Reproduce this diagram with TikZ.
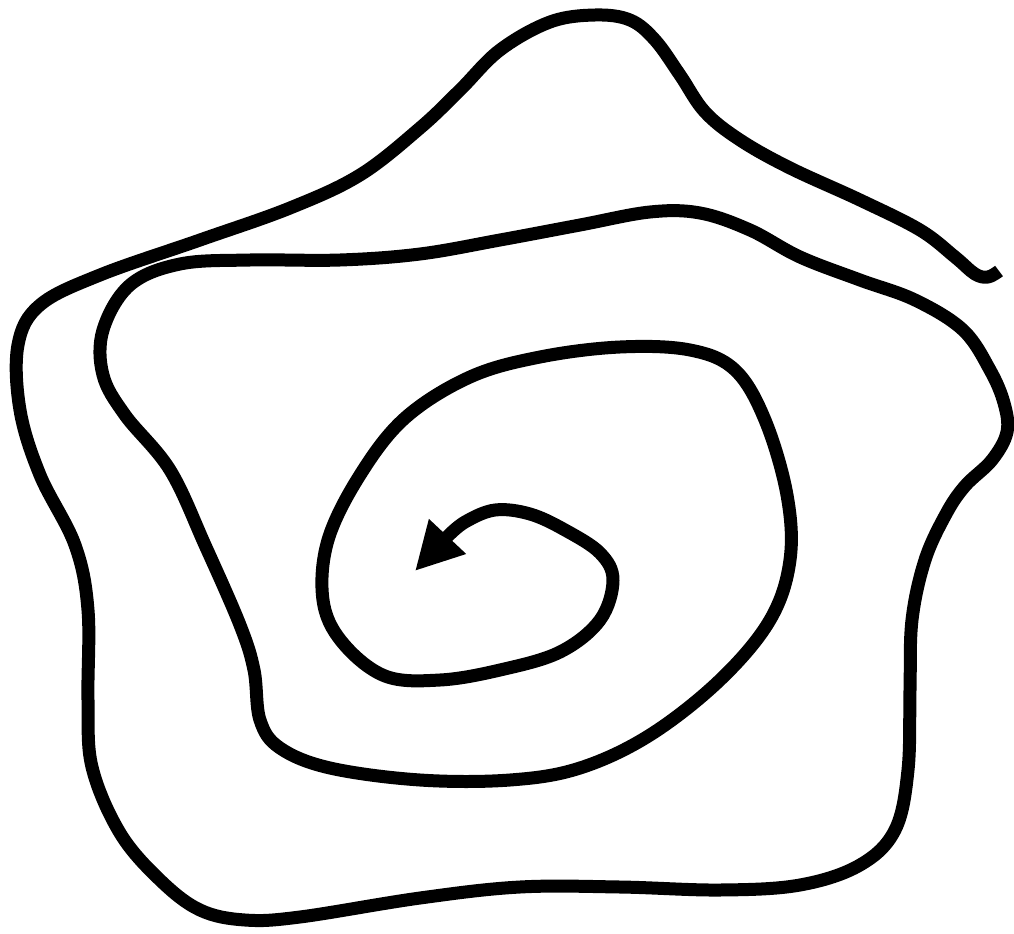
\documentclass[tikz,border=0pt]{standalone}
\usepackage{tikz}
\usetikzlibrary{arrows.meta}

\begin{document}
\begin{tikzpicture}[x=0.02cm, y=-0.02cm,
    spiralline/.style={line width=0.26cm, line join=round, black}]
          \useasboundingbox (0,0) rectangle (1014,933);
          % spiral, drawn from the loose outer end inwards
          \draw[spiralline, -{Triangle[length=0.95cm, width=0.95cm]}] plot[smooth, tension=0.6] coordinates {
            (999,271) (988,277) (975,274) (955,257) (920,230) (860,200) (790,168) (740,140)
            (705,112) (680,75) (655,40) (630,20) (595,15) (550,22) (500,50) (460,90)
            (420,128) (360,175) (290,208) (200,240) (100,275) (40,305) (18,345) (20,410)
            (40,475) (75,545) (88,610) (88,700) (92,767) (120,833) (160,880) (200,910)
            (245,920) (300,917) (420,898) (520,887) (620,887) (720,890) (800,885) (860,865)
            (895,830) (908,770) (910,690) (912,620) (925,560) (946,514) (965,486) (992,460)
            (1007,432) (1004,403) (990,370) (963,330) (915,300) (860,280) (800,257) (750,230)
            (700,213) (650,212) (580,225) (500,240) (420,254) (340,260) (250,260) (180,264)
            (130,285) (103,330) (103,375) (125,415) (170,470) (205,545) (240,625) (254,670)
            (260,720) (280,748) (330,768) (420,780) (510,780) (580,768) (650,735) (720,680)
            (770,620) (790,560) (787,495) (765,420) (735,370) (690,350) (620,347) (540,357)
            (470,377) (405,418) (360,475) (328,540) (323,600) (342,642) (385,676) (440,680)
            (500,670) (560,652) (600,620) (613,580) (600,553) (565,530) (530,514) (495,510)
            (465,522) (447,537)}
            -- (415,571);
        \end{tikzpicture}
\end{document}
